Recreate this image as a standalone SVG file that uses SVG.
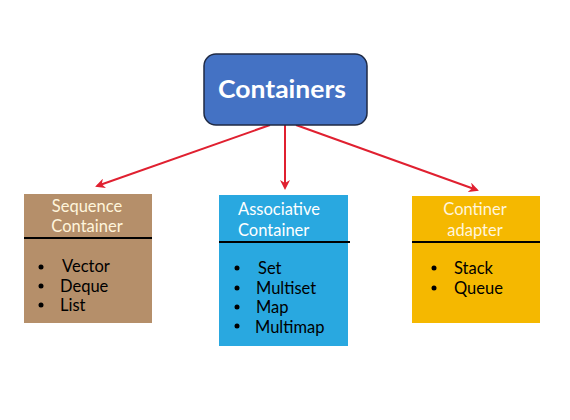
<svg xmlns="http://www.w3.org/2000/svg" width="570" height="420" viewBox="0 0 570 420">
<defs>
<style>
text{font-family:Lato,"Open Sans","Noto Sans",sans-serif;}
.hd{font-size:16.5px;fill:#FFF5DC;}
.hw{font-size:16.5px;fill:#fff;}
.it{font-size:16.5px;fill:#000;}
.bu{fill:#000;}
.dv{stroke:#000;stroke-width:2;}
.cn{stroke:#E02030;stroke-width:2;fill:none;marker-end:url(#ah);}
</style>
<marker id="ah" viewBox="0 0 10 10" refX="8" refY="5" markerWidth="5" markerHeight="5" orient="auto">
<path d="M0,0 L10,5 L0,10 L3,5 z" fill="#E02030"/>
</marker>
</defs>
<rect width="570" height="420" fill="#fff"/>
<g id="connectors">
<line class="cn" x1="270" y1="125" x2="97" y2="186"/>
<line class="cn" x1="285" y1="125" x2="285" y2="188"/>
<line class="cn" x1="296" y1="125" x2="477" y2="190"/>
</g>
<g id="containers">
<rect x="204" y="54" width="163" height="71" rx="12" fill="#4472C4" stroke="#1F2A44" stroke-width="1.5"/>
<text x="218" y="98" font-size="25" font-weight="bold" fill="#fff" textLength="128" lengthAdjust="spacingAndGlyphs">Containers</text>
</g>
<g id="sequence">
<rect x="24" y="194" width="128" height="129" fill="#B58F6A"/>
<line class="dv" x1="24" y1="238" x2="152" y2="238"/>
<text class="hd" x="87" y="212" text-anchor="middle">Sequence</text>
<text class="hd" x="87" y="232" text-anchor="middle">Container</text>
<circle class="bu" cx="41" cy="267" r="2.5"/><text class="it" x="62" y="272">Vector</text>
<circle class="bu" cx="41" cy="286" r="2.5"/><text class="it" x="60" y="292">Deque</text>
<circle class="bu" cx="41" cy="305" r="2.5"/><text class="it" x="60" y="311">List</text>
</g>
<g id="associative">
<rect x="219" y="195" width="129" height="151" fill="#29A8E0"/>
<line class="dv" x1="219" y1="242" x2="350" y2="242"/>
<text class="hw" x="238" y="215">Associative</text>
<text class="hw" x="238" y="236">Container</text>
<circle class="bu" cx="237" cy="268" r="2.5"/><text class="it" x="258" y="274">Set</text>
<circle class="bu" cx="237" cy="288" r="2.5"/><text class="it" x="256" y="293.5">Multiset</text>
<circle class="bu" cx="237" cy="307" r="2.5"/><text class="it" x="256" y="313">Map</text>
<circle class="bu" cx="237" cy="326" r="2.5"/><text class="it" x="255" y="332.5">Multimap</text>
</g>
<g id="adapter">
<rect x="412" y="196" width="128" height="127" fill="#F5B800"/>
<line class="dv" x1="412" y1="242" x2="540" y2="242"/>
<text class="hd" x="475" y="215" text-anchor="middle">Continer</text>
<text class="hd" x="475" y="236" text-anchor="middle">adapter</text>
<circle class="bu" cx="434" cy="268" r="2.5"/><text class="it" x="454" y="274">Stack</text>
<circle class="bu" cx="434" cy="288" r="2.5"/><text class="it" x="454" y="293.5">Queue</text>
</g>
</svg>
